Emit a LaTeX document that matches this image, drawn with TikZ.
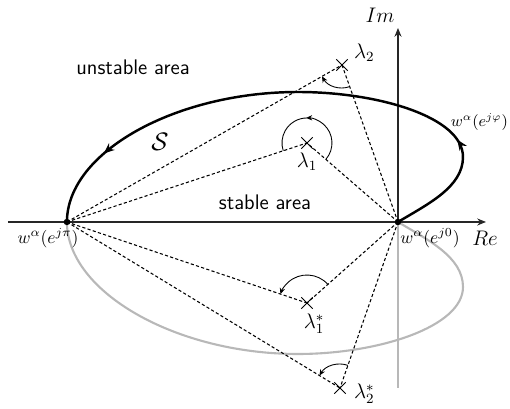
\documentclass[tikz,border=0pt]{standalone}
\usetikzlibrary{arrows.meta, shapes.misc, decorations.markings}

\tikzset{
  axisline/.style={line width=0.6pt, black!85},
  blackcurve/.style={line width=1.4pt, black},
  graycurve/.style={line width=1.2pt, black!28},
  dashline/.style={line width=0.6pt, dash pattern=on 1.8pt off 1.3pt},
  anglearc/.style={line width=0.5pt, -{Stealth[length=3.5pt,width=3pt]}},
  lambdamark/.style={cross out, draw, line width=0.5pt, minimum size=6pt, inner sep=0pt},
  arealabel/.style={font=\sffamily\large}
}

\begin{document}
\begin{tikzpicture}[scale=0.02]
            \useasboundingbox (-398,-187) rectangle (112,222);
            \coordinate (O) at (0,0);
            \coordinate (P) at (-331,0);

            % lower half (conjugate), gray
            \draw[graycurve, yscale=-1] (O) .. controls (30,18) and (65,35) .. (65,65)
              .. controls (65,105) and (-20,132) .. (-100,132)
              .. controls (-222,132) and (-331,70) .. (P);
            \draw[graycurve, line width=0.8pt] (O) -- (0,-166);

            % axes
            \draw[axisline, -{Stealth[length=5pt,width=4pt]}] (-390,0) -- (88,0);
            \draw[axisline, -{Stealth[length=5pt,width=4pt]}] (O) -- (0,194);
            \node[font=\large] at (-18,207) {$Im$};
            \node[font=\large] at (87,-16) {$Re$};

            % upper half
            \draw[blackcurve, postaction={decorate}, decoration={markings,
                mark=at position 0.2 with {\arrow{Stealth[length=6pt,width=5pt]}},
                mark=at position 0.86 with {\arrow{Stealth[length=6pt,width=5pt]}}}]
              (O) .. controls (30,18) and (65,35) .. (65,65)
              .. controls (65,105) and (-20,130) .. (-100,130)
              .. controls (-222,130) and (-331,70) .. (P);
            \fill (O) circle (3.2);
            \fill (P) circle (3.2);

            \node at (32,-16) {$w^\alpha(e^{j0})$};
            \node at (-350,-16) {$w^\alpha(e^{j\pi})$};
            \node[anchor=east, font=\small, inner sep=1pt] at (112,100) {$w^\alpha(e^{j\varphi})$};
            \node[font=\Large] at (-238,80) {$\mathcal{S}$};

            \node[arealabel] at (-265,155) {unstable area};
            \node[arealabel] at (-133,20) {stable area};

            % eigenvalues
            \node[lambdamark] (l2) at (-56,157) {};
            \node[lambdamark] (l1) at (-91,79) {};
            \node[lambdamark] (l1s) at (-91,-81) {};
            \node[lambdamark] (l2s) at (-58,-166) {};
            \node[font=\large, anchor=west] at (-50,169) {$\lambda_2$};
            \node[font=\large] at (-91,60) {$\lambda_1$};
            \node[font=\large] at (-84,-102) {$\lambda_1^*$};
            \node[font=\large, anchor=west] at (-50,-172) {$\lambda_2^*$};

            \foreach \l in {l2, l1, l1s, l2s} {
              \draw[dashline] (P) -- (\l.center);
              \draw[dashline] (O) -- (\l.center);
            }

            % angles
            \draw[anglearc] (l2.center) ++(289.6:23) arc[start angle=289.6, end angle=209.7, radius=23];
            \draw[anglearc] (l1.center) ++(-41:25) arc[start angle=-41, end angle=92, radius=25];
            \draw[line width=0.5pt] (l1.center) ++(90:25) arc[start angle=90, end angle=198.2, radius=25];
            \draw[anglearc] (l1s.center) ++(41.7:28) arc[start angle=41.7, end angle=161.4, radius=28];
            \draw[anglearc] (l2s.center) ++(70.7:24) arc[start angle=70.7, end angle=148.7, radius=24];
        \end{tikzpicture}
\end{document}
